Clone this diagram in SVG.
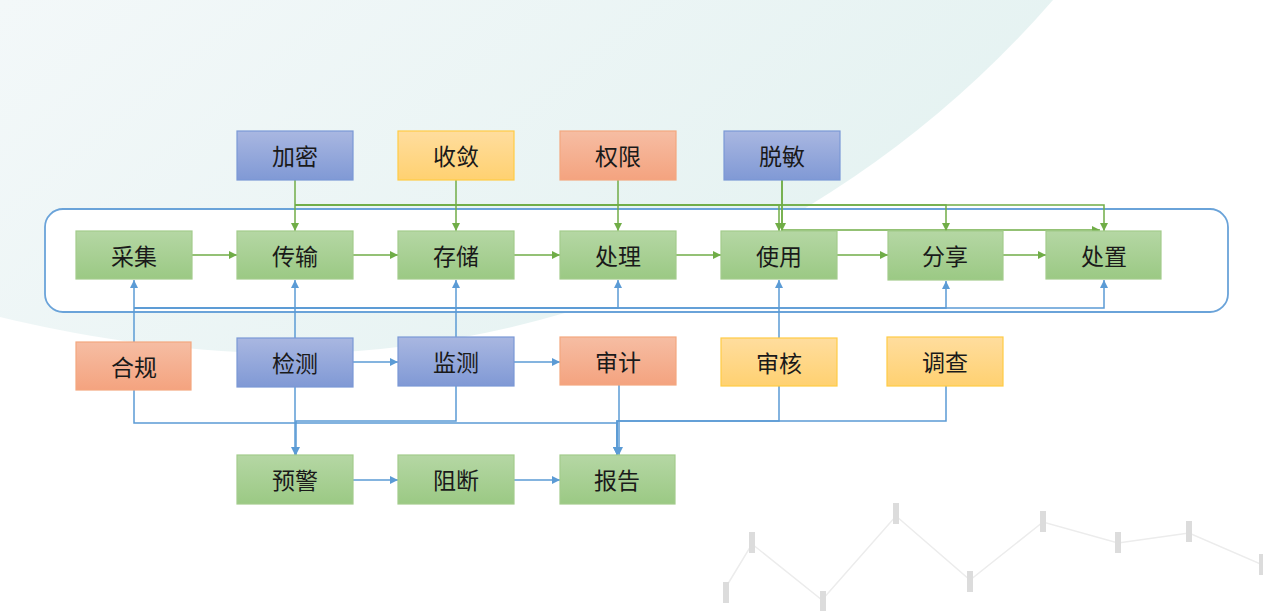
<svg xmlns="http://www.w3.org/2000/svg" width="1263" height="611" viewBox="0 0 1263 611">
<defs>
<linearGradient id="bgT" x1="0" y1="0" x2="1" y2="0.4">
<stop offset="0" stop-color="#f3f8f9"/>
<stop offset="1" stop-color="#e4f2f1"/>
</linearGradient>
<linearGradient id="gG" x1="0" y1="0" x2="0" y2="1"><stop offset="0" stop-color="#b5d7a4"/><stop offset="1" stop-color="#9bc984"/></linearGradient>
<linearGradient id="gB" x1="0" y1="0" x2="0" y2="1"><stop offset="0" stop-color="#a9b7e1"/><stop offset="1" stop-color="#8099d5"/></linearGradient>
<linearGradient id="gO" x1="0" y1="0" x2="0" y2="1"><stop offset="0" stop-color="#f6bda3"/><stop offset="1" stop-color="#f4a37f"/></linearGradient>
<linearGradient id="gY" x1="0" y1="0" x2="0" y2="1"><stop offset="0" stop-color="#ffdd9e"/><stop offset="1" stop-color="#ffd171"/></linearGradient>
<marker id="ag" viewBox="0 0 10 10" refX="10" refY="5" markerWidth="8" markerHeight="8" markerUnits="userSpaceOnUse" orient="auto"><path d="M0,0 L10,5 L0,10 Z" fill="#70ad47"/></marker>
<marker id="ab" viewBox="0 0 10 10" refX="10" refY="5" markerWidth="8" markerHeight="8" markerUnits="userSpaceOnUse" orient="auto"><path d="M0,0 L10,5 L0,10 Z" fill="#5b9bd5"/></marker>
</defs>
<style>
text{font-family:"Noto Sans CJK SC","Noto Sans",sans-serif;font-size:23px;fill:#1a1a1a;text-anchor:middle;dominant-baseline:central}
.g{fill:url(#gG);stroke:#a3cc8c;stroke-width:1.2}
.b{fill:url(#gB);stroke:#7b98d6;stroke-width:1.2}
.o{fill:url(#gO);stroke:#f4a77f;stroke-width:1.2}
.y{fill:url(#gY);stroke:#ffcb45;stroke-width:1.2}
.cg{fill:none;stroke:#70ad47;stroke-width:1.5;marker-end:url(#ag)}
.cb{fill:none;stroke:#5b9bd5;stroke-width:1.5;marker-end:url(#ab)}
.dm{fill:#dcdcdc}
</style>
<rect width="1263" height="611" fill="#ffffff"/>
<path d="M0,0 H1053 A1027,1027 0 0 1 300,354 C190,353 90,339 0,317 Z" fill="url(#bgT)"/>
<g id="deco">
<polyline points="726,587 752,544 822,600 896,516 970,580 1043,522 1118,543 1189,533 1263,565" fill="none" stroke="#ececec" stroke-width="1.5"/>
<rect class="dm" x="723" y="582" width="6" height="21"/>
<rect class="dm" x="749" y="532" width="6" height="21"/>
<rect class="dm" x="820" y="591" width="6" height="21"/>
<rect class="dm" x="893" y="503" width="6" height="21"/>
<rect class="dm" x="967" y="571" width="6" height="21"/>
<rect class="dm" x="1040" y="511" width="6" height="21"/>
<rect class="dm" x="1115" y="532" width="6" height="21"/>
<rect class="dm" x="1186" y="521" width="6" height="21"/>
<rect class="dm" x="1259" y="554" width="6" height="21"/>
</g>
<rect id="container" x="45" y="209" width="1183" height="103" rx="18" fill="#ffffff" stroke="#6aa3d9" stroke-width="1.8"/>
<g id="connectors">
<path class="cg" d="M295,180 V231"/>
<path class="cg" d="M295,205 H779 V231"/>
<path class="cg" d="M295,205 H946 V231"/>
<path class="cg" d="M295,205 H1104 V231"/>
<path class="cg" d="M456,180 V231"/>
<path class="cg" d="M618,180 V231"/>
<path class="cg" d="M782,180 V231"/>
<path class="cg" d="M782,180 V230 H1100"/>
<path class="cg" d="M192,255 H237"/>
<path class="cg" d="M353,255 H398"/>
<path class="cg" d="M514,255 H560"/>
<path class="cg" d="M676,255 H721"/>
<path class="cg" d="M837,255 H888"/>
<path class="cg" d="M1003,255 H1046"/>
<path class="cb" d="M134,342 V280"/>
<path class="cb" d="M134,308 H618 V280"/>
<path class="cb" d="M134,308 H946 V281"/>
<path class="cb" d="M134,308 H1104 V280"/>
<path class="cb" d="M295,338 V280"/>
<path class="cb" d="M456,337 V280"/>
<path class="cb" d="M779,338 V280"/>
<path class="cb" d="M353,362 H398"/>
<path class="cb" d="M514,362 H560"/>
<path class="cb" d="M295,387 V455"/>
<path class="cb" d="M456,386 V421 H296 V455"/>
<path class="cb" d="M134,390 V423 H617 V455"/>
<path class="cb" d="M619,385 V455"/>
<path class="cb" d="M779,386 V421 H617 V455"/>
<path class="cb" d="M946,386 V421 H617 V455"/>
<path class="cb" d="M353,480 H398"/>
<path class="cb" d="M514,480 H560"/>
</g>
<g id="n-jiami"><rect class="b" x="237" y="131" width="116" height="49"/><text x="295" y="155">加密</text></g>
<g id="n-shoulian"><rect class="y" x="398" y="131" width="116" height="49"/><text x="456" y="155">收敛</text></g>
<g id="n-quanxian"><rect class="o" x="560" y="131" width="116" height="49"/><text x="618" y="155">权限</text></g>
<g id="n-tuomin"><rect class="b" x="724" y="131" width="116" height="49"/><text x="782" y="155">脱敏</text></g>
<g id="n-caiji"><rect class="g" x="76" y="231" width="116" height="48"/><text x="134" y="255">采集</text></g>
<g id="n-chuanshu"><rect class="g" x="237" y="231" width="116" height="48"/><text x="295" y="255">传输</text></g>
<g id="n-cunchu"><rect class="g" x="398" y="231" width="116" height="48"/><text x="456" y="255">存储</text></g>
<g id="n-chuli"><rect class="g" x="560" y="231" width="116" height="48"/><text x="618" y="255">处理</text></g>
<g id="n-shiyong"><rect class="g" x="721" y="231" width="116" height="48"/><text x="779" y="255">使用</text></g>
<g id="n-fenxiang"><rect class="g" x="888" y="231" width="115" height="49"/><text x="945" y="255">分享</text></g>
<g id="n-chuzhi"><rect class="g" x="1046" y="231" width="115" height="48"/><text x="1104" y="255">处置</text></g>
<g id="n-hegui"><rect class="o" x="76" y="342" width="115" height="48"/><text x="134" y="366">合规</text></g>
<g id="n-jiance"><rect class="b" x="237" y="338" width="116" height="49"/><text x="295" y="362">检测</text></g>
<g id="n-jiance2"><rect class="b" x="398" y="337" width="116" height="49"/><text x="456" y="361">监测</text></g>
<g id="n-shenji"><rect class="o" x="560" y="337" width="116" height="48"/><text x="618" y="361">审计</text></g>
<g id="n-shenhe"><rect class="y" x="721" y="338" width="116" height="48"/><text x="779" y="362">审核</text></g>
<g id="n-diaocha"><rect class="y" x="887" y="337" width="116" height="49"/><text x="945" y="361">调查</text></g>
<g id="n-yujing"><rect class="g" x="237" y="455" width="116" height="49"/><text x="295" y="479">预警</text></g>
<g id="n-zuduan"><rect class="g" x="398" y="455" width="116" height="49"/><text x="456" y="479">阻断</text></g>
<g id="n-baogao"><rect class="g" x="560" y="455" width="115" height="49"/><text x="617" y="479">报告</text></g>
</svg>
